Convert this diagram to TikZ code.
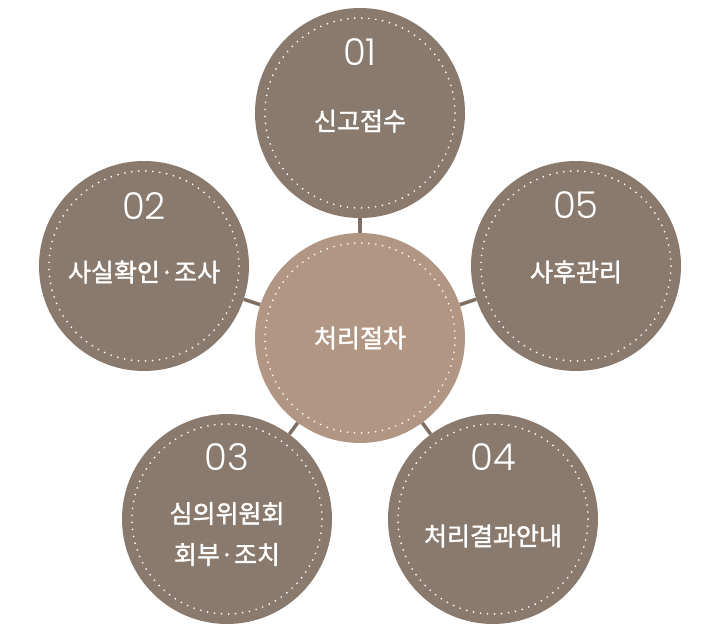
\documentclass[tikz,border=0pt]{standalone}
\usepackage{fontspec}
\newfontfamily\krfont[FakeBold=1.6]{Noto Sans CJK KR}
\IfFontExistsTF{Poppins Light}{\newfontfamily\numfont{Poppins Light}}{\newfontfamily\numfont{Poppins}}
\definecolor{outerfill}{RGB}{137,122,109}
\definecolor{innerfill}{RGB}{176,150,131}
\definecolor{connline}{RGB}{128,112,100}
\tikzset{
  stage/.style={circle, minimum size=210pt, inner sep=0pt, draw=none},
  dotring/.style={white, line width=1.9pt, line cap=round, dash pattern=on 0pt off 7.02pt},
  conn/.style={connline, line width=3.5pt},
  numlab/.style={text=white, font=\numfont\fontsize{37}{37}\selectfont, inner sep=0pt},
  krlab/.style={text=white, font=\krfont\fontsize{25}{41}\selectfont, inner sep=0pt, align=center}
}
\begin{document}
\begin{tikzpicture}[x=1pt,y=-1pt]
\useasboundingbox (0,0) rectangle (720,631);
% circles
\node[stage, fill=innerfill] (c0) at (360,338) {};
\node[stage, fill=outerfill] (c1) at (360,113) {};
\node[stage, fill=outerfill] (c2) at (144,266) {};
\node[stage, fill=outerfill] (c3) at (227,519) {};
\node[stage, fill=outerfill] (c4) at (493,519) {};
\node[stage, fill=outerfill] (c5) at (576,266) {};
% connectors
\foreach \i in {1,...,5}{\draw[conn] (c0) -- (c\i);}
% dotted rings
\foreach \i in {0,...,5}{\draw[dotring] (c\i.center) circle[radius=95pt];}
% numbers
\node[numlab] (n1) at (360,52) {01};
\node[numlab] (n2) at (144,206) {02};
\node[numlab] (n3) at (227,457) {03};
\node[numlab] (n4) at (493,457) {04};
\node[numlab] (n5) at (576,205) {05};
% labels
\node[krlab] (l0) at (360,338) {처리절차};
\node[krlab] (l1) at (360,121) {신고접수};
\node[krlab] (l2) at (144,272) {사실확인·조사};
\node[krlab] (l3) at (227,534) {심의위원회\\회부·조치};
\node[krlab] (l4) at (493,536) {처리결과안내};
\node[krlab] (l5) at (576,272) {사후관리};
\end{tikzpicture}
\end{document}
